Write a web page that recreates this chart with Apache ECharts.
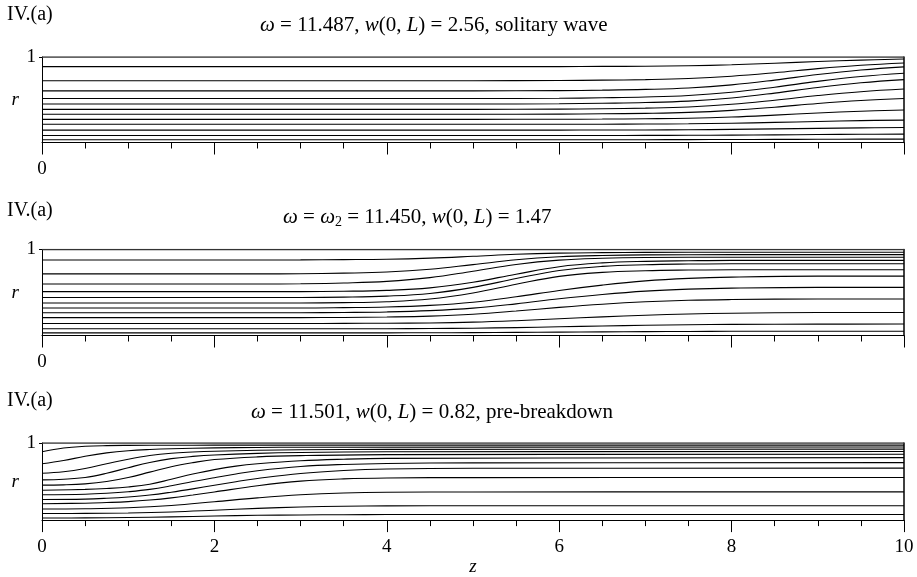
<!DOCTYPE html>
<html><head><meta charset="utf-8">
<script src="https://cdn.jsdelivr.net/npm/echarts@6/dist/echarts.min.js"></script>
<style>html,body{margin:0;padding:0;background:#fff}#c{width:917px;height:577px}</style>
</head><body><div id="c"></div>
<script>
// ---- data ----
const zTickValues = [0, 2, 4, 6, 8, 10];
const panelTags = ['IV.(a)', 'IV.(a)', 'IV.(a)'];
const panelTitles = [
  '{i|ω} = 11.487, {i|w}(0, {i|L}) = 2.56, solitary wave',
  '{i|ω} = {i|ω}{s|2} = 11.450, {i|w}(0, {i|L}) = 1.47',
  '{i|ω} = 11.501, {i|w}(0, {i|L}) = 0.82, pre-breakdown'
];
const wallLine = [[0, 1], [10, 1]];

// panel 1: solitary wave (streamlines r vs z)
const panel1Lines = [
  [[0,.887],[5,.887],[6,.888],[6.5,.890],[7,.892],[7.5,.898],[8,.909],[8.5,.927],[9,.948],[9.5,.964],[10,.976]],
  [[0,.723],[5,.723],[6,.725],[6.5,.729],[7,.735],[7.5,.748],[8,.775],[8.5,.816],[9,.864],[9.5,.903],[10,.930]],
  [[0,.604],[5,.604],[6,.607],[6.5,.612],[7,.621],[7.5,.638],[8,.674],[8.5,.730],[9,.795],[9.5,.848],[10,.885]],
  [[0,.514],[5,.514],[6,.517],[6.5,.523],[7,.532],[7.5,.550],[8,.588],[8.5,.647],[9,.715],[9.5,.772],[10,.810]],
  [[0,.450],[5,.450],[6,.453],[6.5,.459],[7,.467],[7.5,.484],[8,.521],[8.5,.578],[9,.644],[9.5,.698],[10,.735]],
  [[0,.388],[5,.388],[6,.390],[6.5,.395],[7,.402],[7.5,.416],[8,.447],[8.5,.495],[9,.549],[9.5,.594],[10,.625]],
  [[0,.330],[5,.330],[6,.332],[6.5,.336],[7,.341],[7.5,.352],[8,.376],[8.5,.413],[9,.456],[9.5,.491],[10,.515]],
  [[0,.271],[5,.271],[6,.272],[6.5,.274],[7,.278],[7.5,.284],[8,.298],[8.5,.320],[9,.345],[9.5,.366],[10,.380]],
  [[0,.213],[5,.213],[6,.213],[6.5,.214],[7,.216],[7.5,.219],[8,.225],[8.5,.235],[9,.246],[9.5,.256],[10,.262]],
  [[0,.145],[5,.145],[6,.145],[6.5,.146],[7,.147],[7.5,.149],[8,.153],[8.5,.159],[9,.165],[9.5,.171],[10,.175]],
  [[0,.082],[5,.082],[6,.082],[6.5,.082],[7,.083],[7.5,.084],[8,.086],[8.5,.089],[9,.093],[9.5,.096],[10,.098]],
  [[0,.033],[5,.033],[6,.033],[6.5,.033],[7,.033],[7.5,.034],[8,.035],[8.5,.036],[9,.038],[9.5,.039],[10,.040]]
];

// panel 2: omega = omega_2
const panel2Lines = [
  [[0,.878],[2.5,.878],[3,.879],[3.5,.882],[4,.887],[4.5,.900],[5,.921],[5.5,.944],[6,.958],[6.5,.964],[7,.967],[8,.968],[10,.968]],
  [[0,.716],[2.5,.716],[3,.718],[3.5,.725],[4,.738],[4.5,.770],[5,.824],[5.5,.880],[6,.915],[6.5,.931],[7,.938],[8,.940],[10,.940]],
  [[0,.598],[2.5,.598],[3,.601],[3.5,.610],[4,.629],[4.5,.673],[5,.748],[5.5,.826],[6,.876],[6.5,.898],[7,.907],[8,.910],[10,.910]],
  [[0,.510],[3,.510],[3.5,.514],[4,.525],[4.5,.554],[5,.619],[5.5,.713],[6,.800],[6.5,.844],[7,.862],[7.5,.869],[8,.873],[10,.873]],
  [[0,.442],[3,.442],[3.5,.446],[4,.458],[4.5,.489],[5,.560],[5.5,.662],[6,.756],[6.5,.804],[7,.823],[7.5,.831],[8,.835],[10,.835]],
  [[0,.378],[3,.378],[3.5,.382],[4,.393],[4.5,.424],[5,.494],[5.5,.595],[6,.688],[6.5,.734],[7,.753],[7.5,.761],[8,.765],[10,.765]],
  [[0,.320],[3,.320],[3.5,.324],[4,.331],[4.5,.350],[5,.387],[5.5,.450],[6,.524],[6.5,.586],[7,.635],[7.5,.664],[8,.679],[9,.690],[10,.690]],
  [[0,.265],[3,.265],[3.5,.268],[4,.274],[4.5,.289],[5,.318],[5.5,.368],[6,.427],[6.5,.477],[7,.516],[7.5,.539],[8,.551],[9,.560],[10,.560]],
  [[0,.208],[3,.208],[3.5,.210],[4,.215],[4.5,.225],[5,.247],[5.5,.284],[6,.327],[6.5,.364],[7,.392],[7.5,.410],[8,.418],[9,.425],[10,.425]],
  [[0,.140],[3,.140],[3.5,.141],[4,.143],[4.5,.146],[5,.155],[5.5,.172],[6,.194],[6.5,.217],[7,.236],[7.5,.250],[8,.259],[9,.267],[10,.268]],
  [[0,.078],[3,.078],[3.5,.079],[4,.079],[4.5,.081],[5,.085],[5.5,.092],[6,.101],[6.5,.111],[7,.119],[7.5,.125],[8,.129],[9,.132],[10,.133]],
  [[0,.031],[3,.031],[4,.031],[4.5,.032],[5,.033],[5.5,.036],[6,.039],[6.5,.042],[7,.045],[7.5,.047],[8,.049],[9,.050],[10,.050]]
];

// panel 3: pre-breakdown
const panel3Lines = [
  [[0,.887],[.25,.935],[.5,.957],[.75,.966],[1,.969],[1.5,.971],[2,.972],[10,.972]],
  [[0,.730],[.25,.772],[.5,.828],[.75,.872],[1,.900],[1.25,.916],[1.5,.926],[2,.937],[2.5,.942],[3,.945],[10,.948]],
  [[0,.608],[.25,.628],[.5,.670],[.75,.730],[1,.790],[1.25,.838],[1.5,.868],[1.75,.883],[2,.893],[2.5,.905],[3,.912],[4,.917],[10,.920]],
  [[0,.522],[.25,.530],[.5,.552],[.75,.607],[1,.680],[1.25,.748],[1.5,.797],[1.75,.826],[2,.845],[2.5,.866],[3,.877],[4,.886],[10,.890]],
  [[0,.453],[.25,.457],[.5,.470],[.75,.500],[1,.552],[1.25,.622],[1.5,.693],[1.75,.745],[2,.785],[2.5,.820],[3,.836],[4,.849],[10,.855]],
  [[0,.387],[.5,.398],[.75,.410],[1,.430],[1.25,.465],[1.5,.530],[1.75,.597],[2,.655],[2.25,.700],[2.5,.730],[3,.770],[3.5,.790],[4,.800],[10,.810]],
  [[0,.329],[.5,.336],[.75,.348],[1,.368],[1.25,.398],[1.5,.445],[1.75,.500],[2,.550],[2.25,.598],[2.5,.640],[3,.695],[3.5,.722],[4,.735],[5,.742],[10,.745]],
  [[0,.267],[.5,.272],[.75,.283],[1,.300],[1.25,.325],[1.5,.362],[1.75,.405],[2,.452],[2.25,.498],[2.5,.540],[3,.605],[3.5,.643],[4,.662],[5,.672],[10,.674]],
  [[0,.213],[.5,.219],[.75,.228],[1,.240],[1.25,.260],[1.5,.288],[1.75,.325],[2,.365],[2.5,.445],[3,.505],[3.5,.535],[4,.547],[5,.551],[10,.552]],
  [[0,.143],[.5,.147],[1,.160],[1.5,.190],[2,.238],[2.5,.288],[3,.328],[3.5,.352],[4,.362],[5,.365],[10,.366]],
  [[0,.085],[.5,.087],[1,.093],[1.5,.106],[2,.128],[2.5,.152],[3,.170],[3.5,.180],[4,.184],[5,.186],[10,.186]],
  [[0,.027],[.5,.029],[1,.033],[1.5,.042],[2,.053],[2.5,.062],[3,.067],[3.5,.070],[4,.072],[5,.073],[10,.073]]
];
const allPanels = [panel1Lines, panel2Lines, panel3Lines];

// ---- layout ----
const FONT = '"Liberation Serif", "Times New Roman", serif';
const gridTops = [57, 249.5, 443];
const gridHeights = [85.5, 86, 86];
const tagTops = [5, 201, 391];
const titleTops = [14, 206, 401];
const titleLefts = [260, 283, 251];

const grids = [], xAxes = [], yAxes = [], series = [], titles = [];
for (let i = 0; i < 3; i++) {
  grids.push({ left: 42, right: 13, top: gridTops[i], height: gridHeights[i], containLabel: false });
  const last = i === 2;
  xAxes.push({
    gridIndex: i, type: 'value', min: 0, max: 10, interval: 2,
    axisLine: { show: true, onZero: false, lineStyle: { color: '#000', width: 1 } },
    axisTick: { show: true, length: 12, lineStyle: { color: '#000', width: 1 } },
    minorTick: { show: true, splitNumber: 4, length: 6, lineStyle: { color: '#000', width: 1 } },
    splitLine: { show: false }, minorSplitLine: { show: false },
    axisLabel: {
      show: true, margin: 17, color: '#000', fontFamily: FONT, fontSize: 19,
      formatter: (v) => (last || v === zTickValues[0]) ? String(v) : ''
    },
    name: last ? 'z' : '', nameLocation: 'middle', nameGap: 33,
    nameTextStyle: { fontFamily: FONT, fontStyle: 'italic', fontSize: 19, color: '#000' }
  });
  yAxes.push({
    gridIndex: i, type: 'value', min: 0, max: 1, interval: 1, position: 'left',
    axisLine: { show: true, lineStyle: { color: '#000', width: 1 } },
    axisTick: { show: true, length: 3, customValues: [1], lineStyle: { color: '#000' } },
    splitLine: { show: false },
    axisLabel: { show: true, margin: 6, color: '#000', fontFamily: FONT, fontSize: 19,
      formatter: (v) => v === 1 ? '1' : '' },
    name: 'r', nameLocation: 'middle', nameGap: 23, nameRotate: 0,
    nameTextStyle: { fontFamily: FONT, fontStyle: 'italic', fontSize: 19, color: '#000' }
  });
  yAxes.push({
    gridIndex: i, type: 'value', min: 0, max: 1, position: 'right',
    axisLine: { show: true, lineStyle: { color: '#000', width: 1.5 } },
    axisTick: { show: false }, axisLabel: { show: false }, splitLine: { show: false }
  });
  series.push({
    type: 'line', xAxisIndex: i, yAxisIndex: i * 2, data: wallLine,
    showSymbol: false, silent: true, lineStyle: { color: '#333', width: 1.6 }
  });
  allPanels[i].forEach(line => {
    series.push({
      type: 'line', xAxisIndex: i, yAxisIndex: i * 2, data: line,
      showSymbol: false, silent: true, smooth: 0.4,
      lineStyle: { color: '#000', width: 1.1 }
    });
  });
  titles.push({
    text: panelTags[i], left: 7, top: tagTops[i], padding: 0,
    textStyle: { fontFamily: FONT, fontSize: 20, fontWeight: 'normal', color: '#000', lineHeight: 20 }
  });
  titles.push({
    text: panelTitles[i], left: titleLefts[i], top: titleTops[i], padding: 0,
    textStyle: {
      fontFamily: FONT, fontSize: 21, fontWeight: 'normal', color: '#000', lineHeight: 23,
      rich: {
        i: { fontFamily: FONT, fontSize: 21, fontStyle: 'italic', color: '#000', lineHeight: 23 },
        s: { fontFamily: FONT, fontSize: 14, color: '#000', lineHeight: 12, verticalAlign: 'bottom' }
      }
    }
  });
}

const chart = echarts.init(document.getElementById('c'), null, { renderer: 'canvas' });
chart.setOption({
  animation: false, backgroundColor: '#fff',
  title: titles, grid: grids, xAxis: xAxes, yAxis: yAxes, series: series
});
</script></body></html>
